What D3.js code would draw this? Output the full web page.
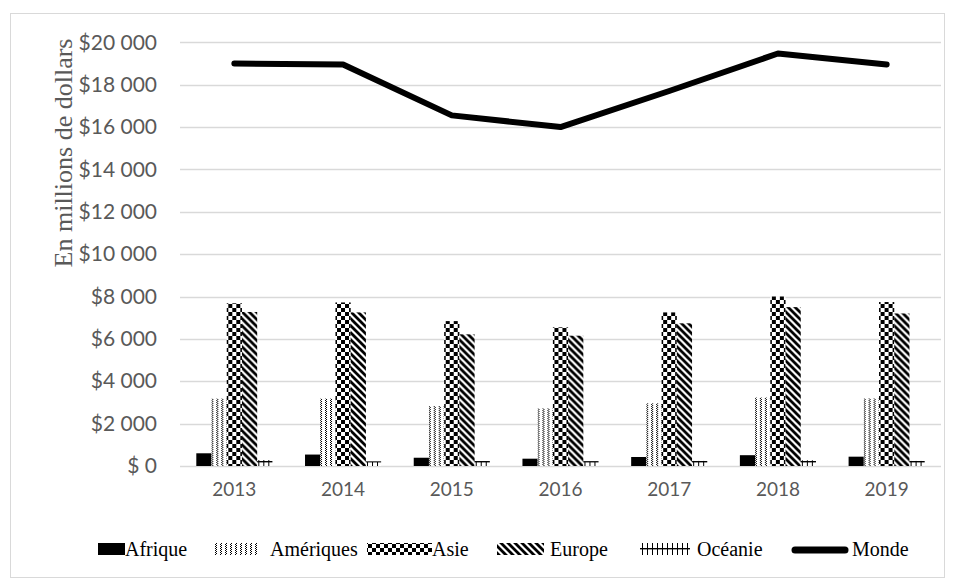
<!DOCTYPE html>
<html>
<head>
<meta charset="utf-8">
<script src="https://cdn.jsdelivr.net/npm/d3@7"></script>
<style>
  html, body { margin: 0; padding: 0; background: #fff; }
  svg { display: block; }
</style>
</head>
<body>
<svg id="chart" width="955" height="581"></svg>
<script>
// Exportations par région, en millions de dollars
const years = ["2013", "2014", "2015", "2016", "2017", "2018", "2019"];
const regions = ["Afrique", "Amériques", "Asie", "Europe", "Océanie"];
const afrique   = [600, 540, 390, 345, 425, 510, 440];
const ameriques = [3180, 3180, 2830, 2720, 2960, 3230, 3190];
const asie      = [7680, 7720, 6840, 6545, 7250, 8000, 7740];
const europe    = [7270, 7250, 6215, 6150, 6735, 7500, 7200];
const oceanie   = [280, 220, 235, 230, 240, 270, 240];
const monde     = [19000, 18950, 16550, 16000, 17700, 19470, 18950];
const yTicks    = [0, 2000, 4000, 6000, 8000, 10000, 12000, 14000, 16000, 18000, 20000];

const seriesValues = [afrique, ameriques, asie, europe, oceanie];

const svg = d3.select("#chart");

// chart frame
svg.append("rect")
  .attr("x", 10.5).attr("y", 13.5)
  .attr("width", 934).attr("height", 564)
  .attr("fill", "#fff").attr("stroke", "#d9d9d9").attr("stroke-width", 1);

// fill patterns
const defs = svg.append("defs");
function pat(id, w, h, y0) {
  const p = defs.append("pattern").attr("id", id)
    .attr("patternUnits", "userSpaceOnUse").attr("width", w).attr("height", h)
    .attr("y", y0 || 0);
  p.append("rect").attr("width", w).attr("height", h).attr("fill", "#fff");
  return p;
}
// Amériques: dotted columns
{
  const p = pat("p-amer", 5, 2);
  p.append("rect").attr("x", 0).attr("y", 0).attr("width", 1).attr("height", 1).attr("fill", "#000");
  p.append("rect").attr("x", 1).attr("y", 1).attr("width", 1).attr("height", 1).attr("fill", "#000");
}
// Asie: checkerboard
{
  const p = pat("p-asie", 8, 8);
  p.append("rect").attr("x", 0).attr("y", 0).attr("width", 4).attr("height", 4).attr("fill", "#000");
  p.append("rect").attr("x", 4).attr("y", 4).attr("width", 4).attr("height", 4).attr("fill", "#000");
}
// Europe: wide downward diagonal
{
  const p = pat("p-eur", 7, 7);
  p.append("path").attr("d", "M-1,-1 L8,8 M-8,-1 L1,8 M6,-1 L15,8")
    .attr("stroke", "#000").attr("stroke-width", 2.8).attr("fill", "none");
}
// Océanie: horizontal rule crossed by vertical ticks (bars and legend key)
function oceaniePattern(id, y0) {
  const p = pat(id, 5, 12, y0);
  p.append("rect").attr("x", 0).attr("y", 5).attr("width", 5).attr("height", 1.4).attr("fill", "#000");
  p.append("rect").attr("x", 2).attr("y", 0).attr("width", 1).attr("height", 12).attr("fill", "#000");
}
oceaniePattern("p-oce", 0);
oceaniePattern("p-oce-key", 543);
const fills = ["#000", "url(#p-amer)", "url(#p-asie)", "url(#p-eur)", "url(#p-oce)"];

// scales
const x = d3.scaleBand().domain(years).range([180, 941]).paddingInner(0.3).paddingOuter(0.15);
const xOuter = d3.scaleBand().domain(years).range([180, 941]);
const xIn = d3.scaleBand().domain(regions).range([0, x.bandwidth()]);
const y = d3.scaleLinear().domain([0, 20000]).range([466, 42.3]);

// gridlines
svg.append("g").selectAll("line").data(yTicks).join("line")
  .attr("x1", 180).attr("x2", 941)
  .attr("y1", d => Math.round(y(d)) + 0.5).attr("y2", d => Math.round(y(d)) + 0.5)
  .attr("stroke", "#d9d9d9").attr("stroke-width", 1.3);

// y axis labels
const fmt = d => d === 0 ? "$ 0" : "$" + d3.format(",")(d).replace(/,/g, " ");
const yAxis = d3.axisLeft(y).tickValues(yTicks).tickFormat(fmt).tickSize(0).tickPadding(0);
svg.append("g").attr("transform", "translate(157,0)").call(yAxis)
  .call(g => g.select(".domain").remove())
  .call(g => g.selectAll("text").attr("fill", "#595959")
    .style("font-family", "Lato, 'Open Sans', sans-serif").style("font-size", "21px"));

// x axis labels
const xAxis = d3.axisBottom(xOuter).tickSize(0).tickPadding(0);
svg.append("g").attr("transform", "translate(0,482)").call(xAxis)
  .call(g => g.select(".domain").remove())
  .call(g => g.selectAll("text").attr("fill", "#595959")
    .style("font-family", "Lato, 'Open Sans', sans-serif").style("font-size", "19px"));

// y axis title
svg.append("text")
  .attr("transform", "translate(72,153) rotate(-90)")
  .attr("text-anchor", "middle")
  .attr("fill", "#595959")
  .style("font-family", "'Liberation Serif', 'Times New Roman', serif")
  .style("font-size", "26px")
  .text("En millions de dollars");

// bars
const groups = svg.append("g").selectAll("g").data(years).join("g")
  .attr("transform", d => `translate(${x(d)},0)`);
groups.selectAll("rect")
  .data((yr, i) => regions.map((r, k) => ({ r, k, v: seriesValues[k][i] })))
  .join("rect")
  .attr("x", d => xIn(d.r))
  .attr("width", xIn.bandwidth())
  .attr("y", d => y(d.v))
  .attr("height", d => y(0) - y(d.v))
  .attr("fill", d => fills[d.k]);

// Monde line
const line = d3.line().x((d, i) => xOuter(years[i]) + xOuter.bandwidth() / 2).y(d => y(d));
svg.append("path").datum(monde)
  .attr("d", line)
  .attr("fill", "none").attr("stroke", "#000").attr("stroke-width", 6)
  .attr("stroke-linecap", "round").attr("stroke-linejoin", "round");

// legend
const legendY = 549;
const legendItems = [
  { name: "Afrique",   fill: fills[0],          sx: 98,  sw: 27, tx: 125 },
  { name: "Amériques", fill: fills[1],          sx: 212, sw: 48, tx: 270 },
  { name: "Asie",      fill: fills[2],          sx: 367, sw: 65, tx: 432 },
  { name: "Europe",    fill: fills[3],          sx: 497, sw: 47, tx: 550 },
  { name: "Océanie",   fill: "url(#p-oce-key)", sx: 640, sw: 50, tx: 697 },
  { name: "Monde",     line: true,              sx: 792, sw: 56, tx: 852 }
];
const lg = svg.append("g");
legendItems.forEach(it => {
  if (it.line) {
    lg.append("line").attr("x1", it.sx + 3).attr("x2", it.sx + it.sw - 3)
      .attr("y1", legendY + 1).attr("y2", legendY + 1)
      .attr("stroke", "#000").attr("stroke-width", 7).attr("stroke-linecap", "round");
  } else {
    lg.append("rect").attr("x", it.sx).attr("y", legendY - 6)
      .attr("width", it.sw).attr("height", 12).attr("fill", it.fill);
  }
  lg.append("text").attr("x", it.tx).attr("y", legendY + 7)
    .attr("fill", "#000")
    .style("font-family", "'Liberation Serif', 'Times New Roman', serif")
    .style("font-size", "20px")
    .text(it.name);
});
</script>
</body>
</html>
